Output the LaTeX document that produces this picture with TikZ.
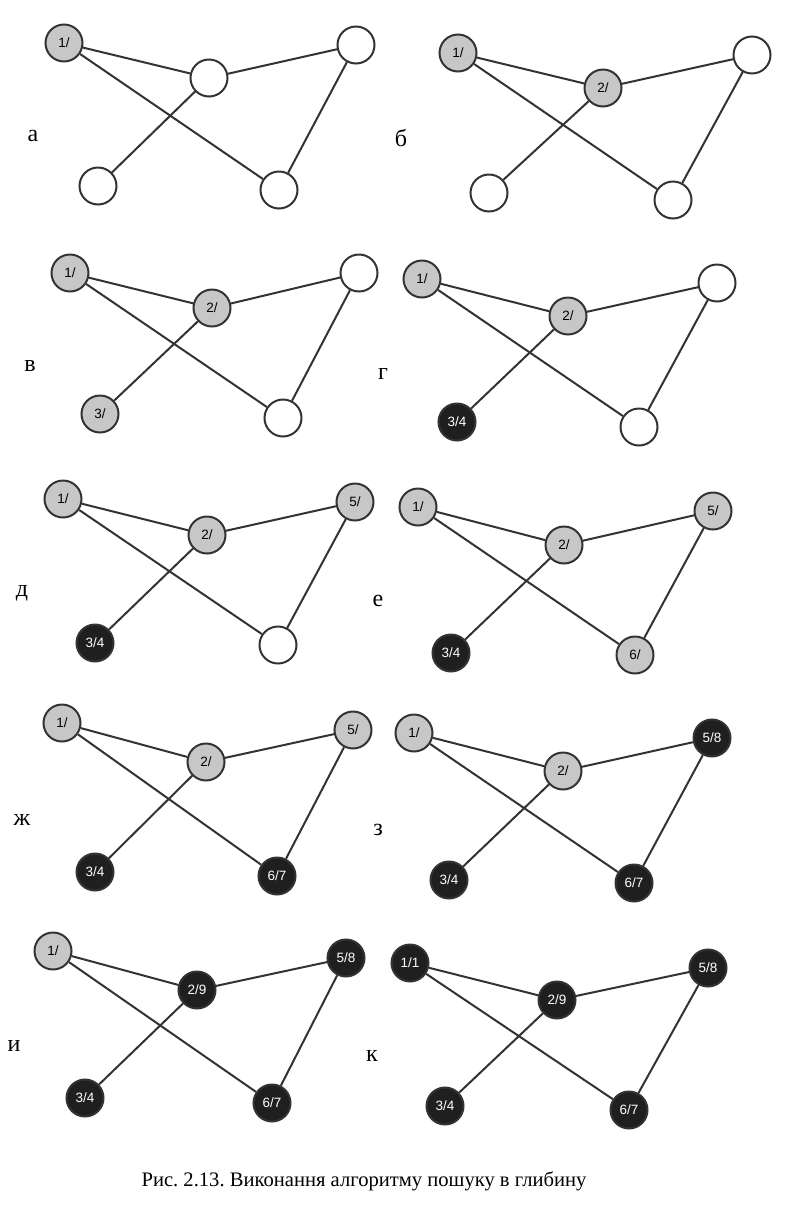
\documentclass[tikz,border=0pt]{standalone}
\usepackage{fontspec}
\setmainfont{Liberation Serif}
\newfontfamily\nodefont{Liberation Sans}
\frenchspacing
\begin{document}
\begin{tikzpicture}[x=1pt,y=-1pt,
  vtx/.style={circle,draw=black!80,line width=2pt,minimum size=37pt,inner sep=0pt,font=\nodefont\fontsize{13.5}{14}\selectfont},
  wn/.style={vtx,fill=white},
  gn/.style={vtx,fill=black!22},
  bn/.style={vtx,fill=black!88,text=white},
  edge/.style={draw=black!80,line width=2pt},
  plabel/.style={font=\fontsize{24}{26}\selectfont},
]
\fill[white] (0,0) rectangle (796,1219);
\useasboundingbox (0,0) rectangle (796,1219);
\newcommand\gedges[1]{\draw[edge] (#1-1) -- (#1-2); \draw[edge] (#1-1) -- (#1-6); \draw[edge] (#1-2) -- (#1-5); \draw[edge] (#1-2) -- (#1-3); \draw[edge] (#1-5) -- (#1-6);}
% panel a
\node[gn] (a-1) at (64,43) {1/};
\node[wn] (a-2) at (209,78) {};
\node[wn] (a-5) at (356,45) {};
\node[wn] (a-3) at (98,186) {};
\node[wn] (a-6) at (279,190) {};
\gedges{a}
\node[plabel] (la) at (33,136) {а};
% panel b
\node[gn] (b-1) at (458,53) {1/};
\node[gn] (b-2) at (603,88) {2/};
\node[wn] (b-5) at (752,55) {};
\node[wn] (b-3) at (489,193) {};
\node[wn] (b-6) at (673,200) {};
\gedges{b}
\node[plabel] (lb) at (401,138) {б};
% panel v
\node[gn] (c-1) at (70,273) {1/};
\node[gn] (c-2) at (212,308) {2/};
\node[wn] (c-5) at (359,273) {};
\node[gn] (c-3) at (100,414) {3/};
\node[wn] (c-6) at (283,418) {};
\gedges{c}
\node[plabel] (lc) at (30,366) {в};
% panel g
\node[gn] (d-1) at (422,279) {1/};
\node[gn] (d-2) at (568,316) {2/};
\node[wn] (d-5) at (717,283) {};
\node[bn] (d-3) at (457,422) {3/4};
\node[wn] (d-6) at (639,427) {};
\gedges{d}
\node[plabel] (ld) at (383,374) {г};
% panel d
\node[gn] (e-1) at (63,499) {1/};
\node[gn] (e-2) at (207,535) {2/};
\node[gn] (e-5) at (355,502) {5/};
\node[bn] (e-3) at (95,643) {3/4};
\node[wn] (e-6) at (278,645) {};
\gedges{e}
\node[plabel] (le) at (22,593) {д};
% panel e
\node[gn] (f-1) at (418,507) {1/};
\node[gn] (f-2) at (564,545) {2/};
\node[gn] (f-5) at (713,511) {5/};
\node[bn] (f-3) at (451,653) {3/4};
\node[gn] (f-6) at (635,655) {6/};
\gedges{f}
\node[plabel] (lf) at (378,601) {е};
% panel zh
\node[gn] (g-1) at (62,723) {1/};
\node[gn] (g-2) at (206,762) {2/};
\node[gn] (g-5) at (353,730) {5/};
\node[bn] (g-3) at (95,872) {3/4};
\node[bn] (g-6) at (277,876) {6/7};
\gedges{g}
\node[plabel] (lg) at (22,820) {ж};
% panel z
\node[gn] (h-1) at (414,733) {1/};
\node[gn] (h-2) at (563,771) {2/};
\node[bn] (h-5) at (712,738) {5/8};
\node[bn] (h-3) at (449,880) {3/4};
\node[bn] (h-6) at (634,883) {6/7};
\gedges{h}
\node[plabel] (lh) at (378,830) {з};
% panel i
\node[gn] (i-1) at (53,951) {1/};
\node[bn] (i-2) at (197,990) {2/9};
\node[bn] (i-5) at (346,958) {5/8};
\node[bn] (i-3) at (85,1098) {3/4};
\node[bn] (i-6) at (272,1103) {6/7};
\gedges{i}
\node[plabel] (li) at (14,1046) {и};
% panel k
\node[bn] (j-1) at (410,963) {1/1};
\node[bn] (j-2) at (557,1000) {2/9};
\node[bn] (j-5) at (708,968) {5/8};
\node[bn] (j-3) at (445,1106) {3/4};
\node[bn] (j-6) at (629,1110) {6/7};
\gedges{j}
\node[plabel] (lj) at (372,1056) {к};
% caption
\node[font=\fontsize{20.6}{23}\selectfont] (cap) at (364,1181) {Рис. 2.13. Виконання алгоритму пошуку в глибину};
\end{tikzpicture}
\end{document}
